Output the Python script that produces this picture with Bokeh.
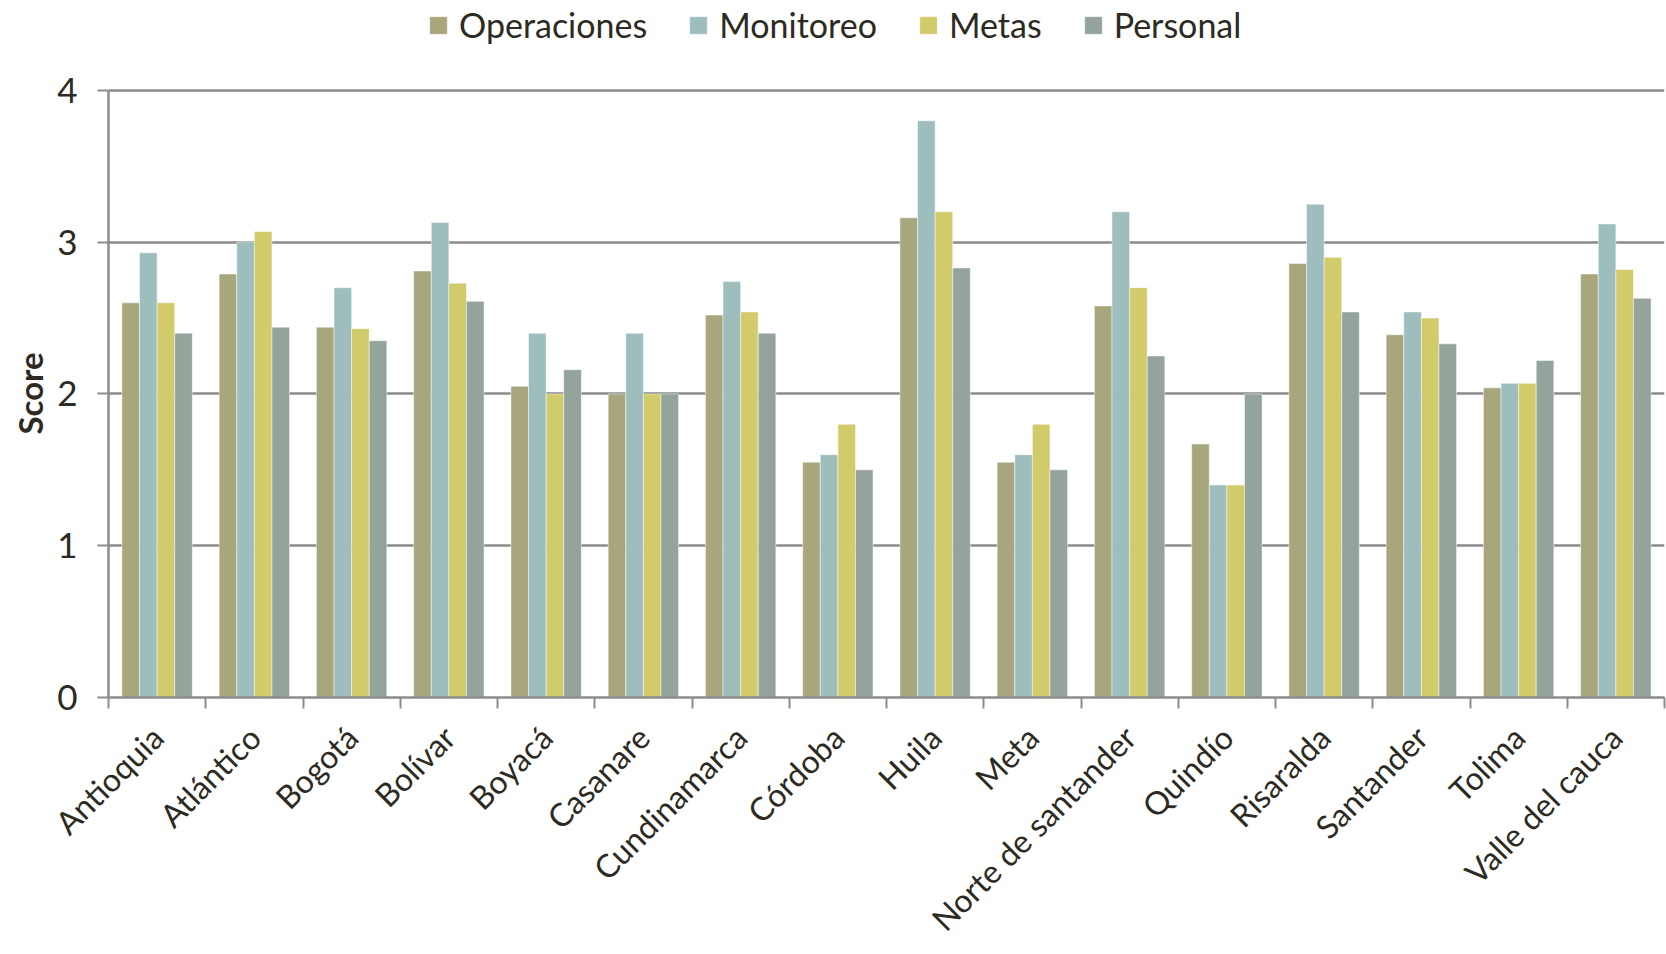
import math
from bokeh.plotting import figure
from bokeh.models import ColumnDataSource, FixedTicker, Legend, LegendItem, Range1d, Title
from bokeh.transform import dodge
from bokeh.embed import file_html
from bokeh.resources import INLINE

categories = ["Antioquia", "Atlántico", "Bogotá", "Bolívar", "Boyacá", "Casanare",
              "Cundinamarca", "Córdoba", "Huila", "Meta", "Norte de santander",
              "Quindío", "Risaralda", "Santander", "Tolima", "Valle del cauca"]
operaciones = [2.60, 2.79, 2.44, 2.81, 2.05, 2.00, 2.52, 1.55, 3.16, 1.55, 2.58, 1.67, 2.86, 2.39, 2.04, 2.79]
monitoreo   = [2.93, 3.00, 2.70, 3.13, 2.40, 2.40, 2.74, 1.60, 3.80, 1.60, 3.20, 1.40, 3.25, 2.54, 2.07, 3.12]
metas       = [2.60, 3.07, 2.43, 2.73, 2.00, 2.00, 2.54, 1.80, 3.20, 1.80, 2.70, 1.40, 2.90, 2.50, 2.07, 2.82]
personal    = [2.40, 2.44, 2.35, 2.61, 2.16, 2.00, 2.40, 1.50, 2.83, 1.50, 2.25, 2.00, 2.54, 2.33, 2.22, 2.63]
series_names = ["Operaciones", "Monitoreo", "Metas", "Personal"]
y_ticks = [0, 1, 2, 3, 4]

colors = ["#a8a67c", "#9ebdbd", "#d1cb6c", "#94a39b"]
TEXT = "#2c2a22"
AXIS = "#8c8c8c"
FONT = "Lato"

# frame spans the full height above the x axis; the visible scale stops at 4
FRAME_H = 698
AXIS_H = 608
y_top = max(y_ticks) * FRAME_H / AXIS_H

centers = [i + 0.5 for i in range(len(categories))]
source = ColumnDataSource(dict(x=centers, cat=categories, Operaciones=operaciones,
                               Monitoreo=monitoreo, Metas=metas, Personal=personal))

p = figure(width=1666, height=954, x_range=Range1d(0, len(categories)), y_range=Range1d(0, y_top),
           output_backend="svg", toolbar_location=None,
           min_border_left=108, min_border_right=2, min_border_top=0, min_border_bottom=256)
p.outline_line_color = None
p.background_fill_color = "white"
p.border_fill_color = "white"

bw = 0.181
offsets = [-1.5 * bw, -0.5 * bw, 0.5 * bw, 1.5 * bw]
items = []
for name, col, off in zip(series_names, colors, offsets):
    r = p.vbar(x=dodge("x", off, range=p.x_range), top=name, width=bw, source=source,
               fill_color=col, line_color="white", line_width=0.8, line_alpha=0.6)
    items.append(LegendItem(label=name, renderers=[r]))

# x axis
p.xaxis.ticker = FixedTicker(ticks=centers, minor_ticks=list(range(len(categories) + 1)))
p.xaxis.major_label_overrides = {c: n for c, n in zip(centers, categories)}
p.xaxis.major_tick_line_color = None
p.xaxis.major_tick_out = 10
p.xaxis.major_tick_in = 0
p.xaxis.minor_tick_out = 11
p.xaxis.minor_tick_in = 0
p.xaxis.minor_tick_line_color = AXIS
p.xaxis.minor_tick_line_width = 2
p.xaxis.axis_line_color = AXIS
p.xaxis.axis_line_width = 2.5
p.xaxis.major_label_orientation = math.pi / 4
p.xaxis.major_label_standoff = 23
p.xaxis.major_label_text_font = FONT
p.xaxis.major_label_text_font_size = "32px"
p.xaxis.major_label_text_color = TEXT

# y axis
p.yaxis.ticker = FixedTicker(ticks=y_ticks)
p.yaxis.bounds = (min(y_ticks), max(y_ticks))
p.yaxis.major_tick_out = 11
p.yaxis.major_tick_in = 0
p.yaxis.major_tick_line_color = AXIS
p.yaxis.major_tick_line_width = 2
p.yaxis.minor_tick_line_color = None
p.yaxis.axis_line_color = AXIS
p.yaxis.axis_line_width = 2.5
p.yaxis.major_label_standoff = 20
p.yaxis.major_label_text_font = FONT
p.yaxis.major_label_text_font_size = "35px"
p.yaxis.major_label_text_color = TEXT

# y axis title, centred on the 0-4 scale
ytitle = Title(text="Score", align="left", vertical_align="top", offset=263, standoff=6,
               text_font=FONT, text_font_size="33px", text_font_style="bold", text_color=TEXT)
p.add_layout(ytitle, "left")

p.xgrid.grid_line_color = None
p.ygrid.ticker = FixedTicker(ticks=y_ticks)
p.ygrid.grid_line_color = AXIS
p.ygrid.grid_line_width = 2.5

legend = Legend(items=items, orientation="horizontal", location=(319, 652))
legend.background_fill_alpha = 0
legend.border_line_color = None
legend.padding = 0
legend.margin = 0
legend.spacing = 40
legend.glyph_width = 22
legend.glyph_height = 22
legend.label_standoff = 10
legend.label_text_font = FONT
legend.label_text_font_size = "34px"
legend.label_text_color = TEXT
p.add_layout(legend, "center")

open("out.html", "w").write(file_html(p, INLINE))
